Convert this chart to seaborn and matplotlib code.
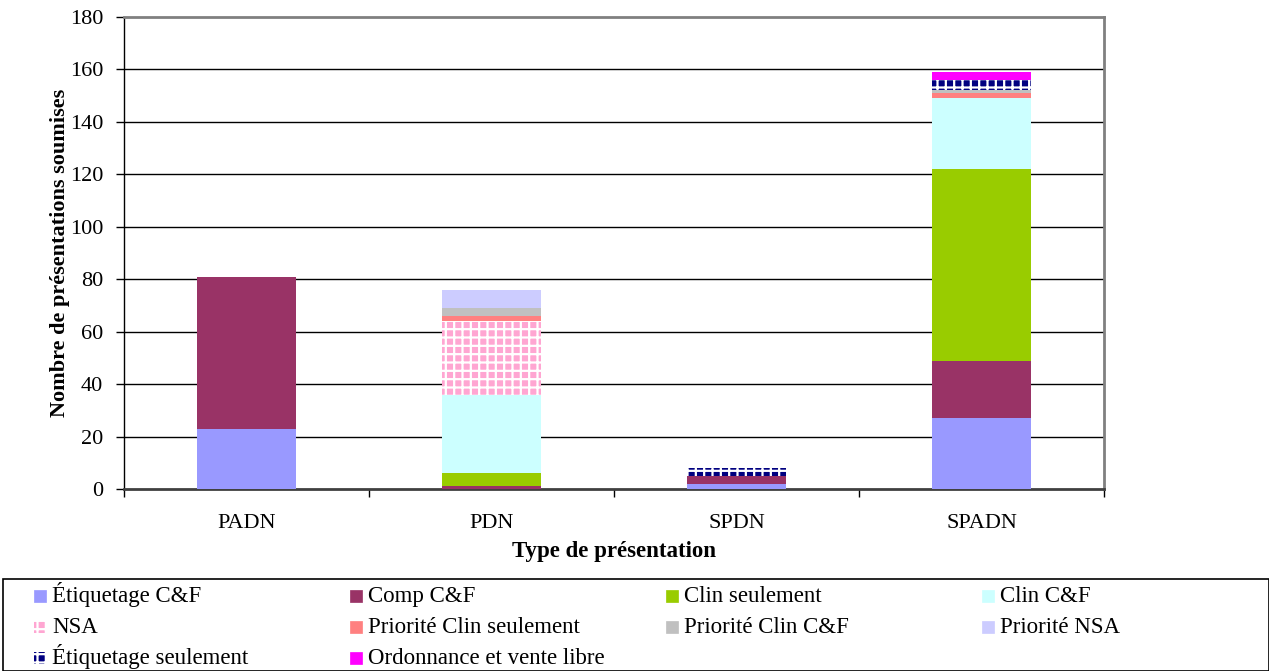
import numpy as np
import pandas as pd
import matplotlib
matplotlib.use("Agg")
import matplotlib.pyplot as plt
from matplotlib.patches import Rectangle
import seaborn as sns

# Submission types (x categories)
types = ["PADN", "PDN", "SPDN", "SPADN"]

# Stack series, bottom to top
etiquetage_cf = [23, 0, 2, 27]
comp_cf = [58, 1, 3, 22]
clin_seulement = [0, 5, 0, 73]
clin_cf = [0, 30, 0, 27]
nsa = [0, 28, 0, 0]
priorite_clin_seulement = [0, 2, 0, 2]
priorite_clin_cf = [0, 3, 0, 1]
priorite_nsa = [0, 7, 0, 0]
etiquetage_seulement = [0, 0, 3, 4]
ordonnance_vente_libre = [0, 0, 0, 3]

series = [
    ("Étiquetage C&F", etiquetage_cf),
    ("Comp C&F", comp_cf),
    ("Clin seulement", clin_seulement),
    ("Clin C&F", clin_cf),
    ("NSA", nsa),
    ("Priorité Clin seulement", priorite_clin_seulement),
    ("Priorité Clin C&F", priorite_clin_cf),
    ("Priorité NSA", priorite_nsa),
    ("Étiquetage seulement", etiquetage_seulement),
    ("Ordonnance et vente libre", ordonnance_vente_libre),
]

# (face colour, hatch, hatch colour)
styles = {
    "Étiquetage C&F": ("#9999FF", None, None),
    "Comp C&F": ("#993366", None, None),
    "Clin seulement": ("#99CC00", None, None),
    "Clin C&F": ("#CCFFFF", None, None),
    "NSA": ("#FFA6D2", "++", "#FFFFFF"),
    "Priorité Clin seulement": ("#FF8080", None, None),
    "Priorité Clin C&F": ("#C0C0C0", None, None),
    "Priorité NSA": ("#CCCCFF", None, None),
    "Étiquetage seulement": ("#000080", "++", "#FFFFFF"),
    "Ordonnance et vente libre": ("#FF00FF", None, None),
}

sns.set_theme(style="white")
plt.rcParams["font.family"] = ["Liberation Serif", "DejaVu Serif"]
plt.rcParams["hatch.linewidth"] = 1.6
for key in ["text.color", "axes.labelcolor", "xtick.color", "ytick.color"]:
    plt.rcParams[key] = "black"

W, H = 1269, 671
fig = plt.figure(figsize=(W / 100, H / 100), dpi=100)
ax = fig.add_axes([124 / W, 1 - 489 / H, 980 / W, 472 / H])

bottom = np.zeros(len(types))
for name, vals in series:
    face, hatch, hcol = styles[name]
    df = pd.DataFrame({"type": types, "value": vals})
    sns.barplot(data=df, x="type", y="value", ax=ax, color=face,
                width=0.404, errorbar=None, bottom=bottom.copy(),
                saturation=1, linewidth=0, zorder=3)
    if hatch:
        for patch in ax.patches[-len(types):]:
            patch.set_hatch(hatch)
            patch.set_edgecolor(hcol)
            patch.set_linewidth(0)
    bottom += np.array(vals)

ax.set_xlim(-0.5, 3.5)
ax.set_ylim(0, 180)
ax.set_yticks(np.arange(0, 181, 20))
for y in range(20, 180, 20):
    ax.axhline(y, color="black", linewidth=1, zorder=1)

ax.tick_params(axis="y", which="major", direction="out", length=6, width=1,
               color="black", labelcolor="black", labelsize=16, pad=9,
               left=True)
ax.tick_params(axis="x", which="major", length=0, labelsize=16, pad=18,
               labelcolor="black")
ax.set_xticks(np.arange(-0.5, 3.6, 1.0), minor=True)
ax.tick_params(axis="x", which="minor", direction="out", length=6, width=1,
               color="black", bottom=True)

for side in ["top", "right"]:
    ax.spines[side].set_color("#808080")
    ax.spines[side].set_linewidth(2)
ax.spines["left"].set_color("black")
ax.spines["left"].set_linewidth(1)
ax.spines["bottom"].set_color("#404040")
ax.spines["bottom"].set_linewidth(2)

ax.set_xlabel("Type de présentation", fontsize=16.5, fontweight="bold",
              labelpad=6, color="black")
ax.set_ylabel("Nombre de présentations soumises", fontsize=16,
              fontweight="bold", labelpad=0, color="black")

# Legend: framed box below the plot, four evenly spaced columns
fig.add_artist(Rectangle((3 / W, 0), 1266 / W, 1 - 579 / H,
                         transform=fig.transFigure, fill=False,
                         edgecolor="black", linewidth=1.2))

names = [n for n, _ in series]
col_x = [34 + i * 316 for i in range(4)]
baselines = [602, 633, 664]
for i, name in enumerate(names):
    cx = col_x[i % 4]
    by = baselines[i // 4]
    face, hatch, hcol = styles[name]
    sw = Rectangle((cx / W, 1 - by / H), 12 / W, 12.5 / H,
                   transform=fig.transFigure, facecolor=face,
                   edgecolor=hcol if hatch else face,
                   linewidth=0 if hatch else 0.5, hatch=hatch)
    fig.add_artist(sw)
    fig.text((cx + 18) / W, 1 - by / H, name, fontsize=16.5,
             va="baseline", ha="left", color="black")

fig.savefig("out.png", dpi=100)
